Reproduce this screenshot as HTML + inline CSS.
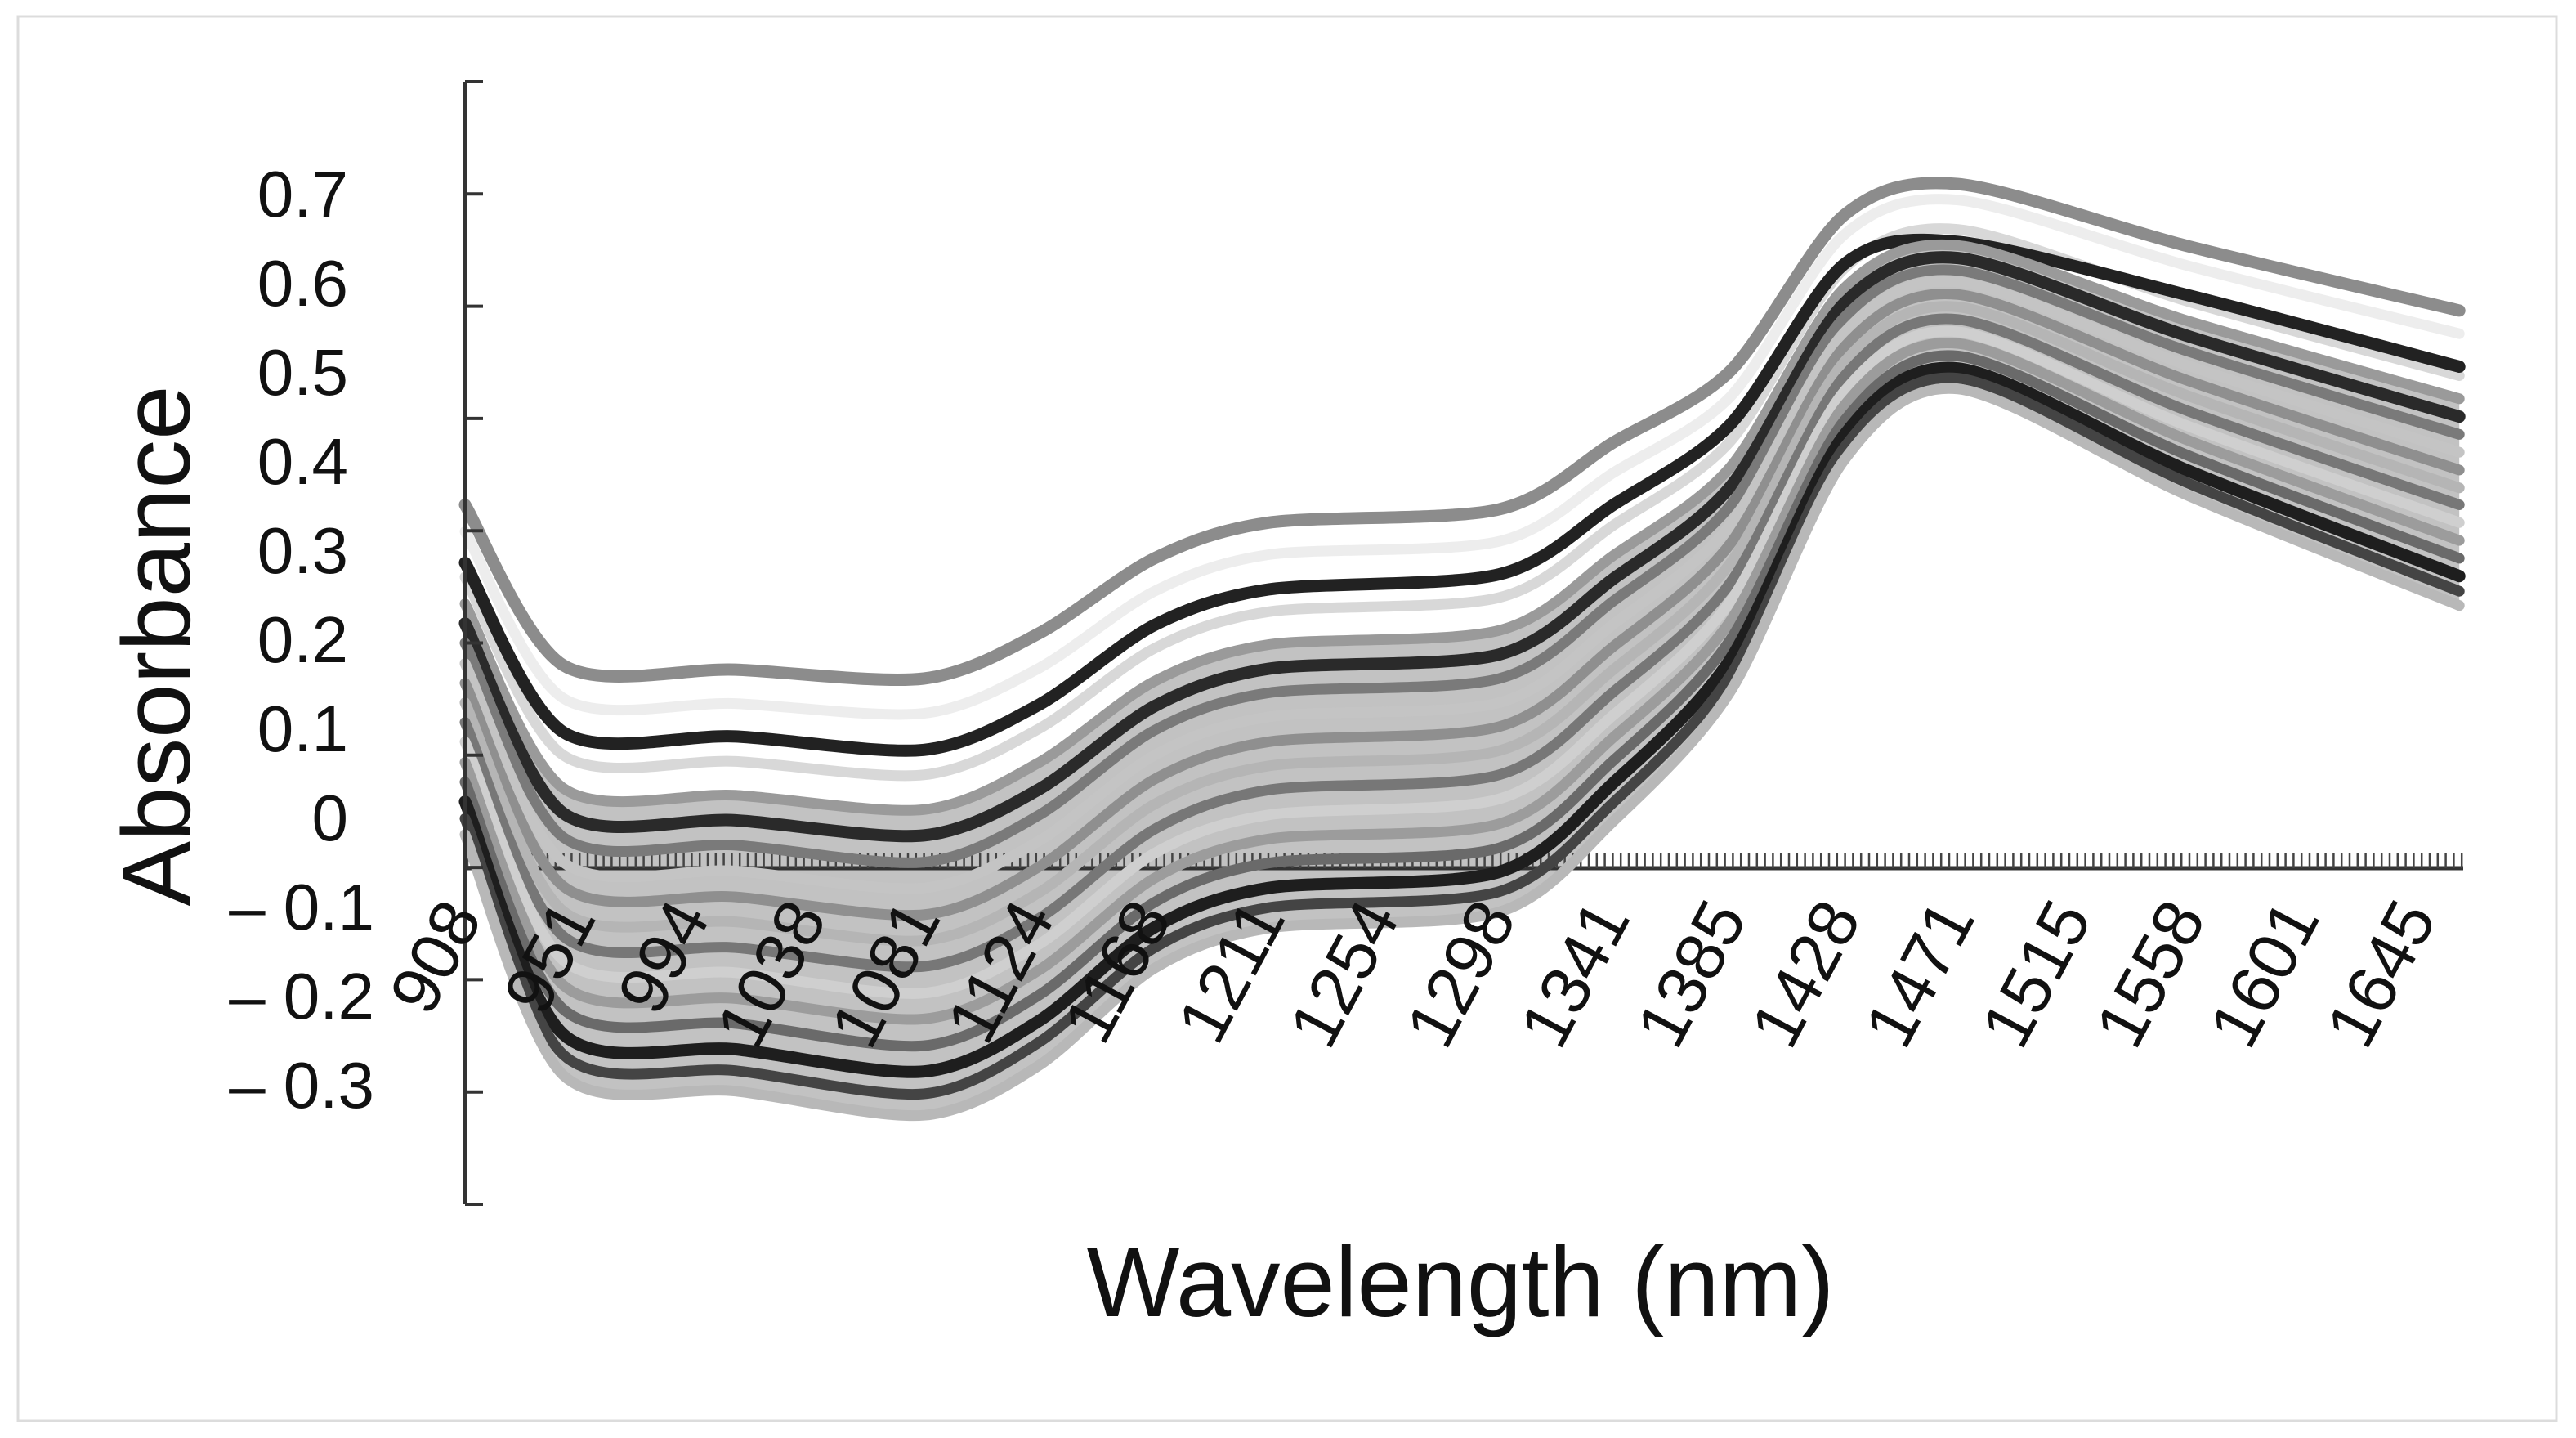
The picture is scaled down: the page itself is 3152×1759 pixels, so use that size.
<!DOCTYPE html>
<html><head><meta charset="utf-8"><style>
html,body{margin:0;padding:0;background:#fff;}
svg{display:block;}
text{font-family:"Liberation Sans",sans-serif;fill:#111;}
</style></head><body>
<svg id="chart" width="3152" height="1759" viewBox="0 0 3152 1759" xmlns="http://www.w3.org/2000/svg">
<rect x="22" y="20" width="3106" height="1718" fill="#fff" stroke="#dcdcdc" stroke-width="3"/>
<g id="band"></g>
<g id="xaxis"></g>
<g id="curves"></g>
<g id="yaxis"></g>
<g id="xlabels"></g>
<text transform="translate(232,790) rotate(-90)" text-anchor="middle" font-size="118" textLength="637" lengthAdjust="spacingAndGlyphs">Absorbance</text>
<text x="1787" y="1610" text-anchor="middle" font-size="122" textLength="915" lengthAdjust="spacingAndGlyphs">Wavelength (nm)</text>
</svg>
<script>
const wavelengths = [908, 945, 1010, 1081, 1124, 1168, 1211, 1298, 1341, 1385, 1428, 1471, 1558, 1660];
const tickLabels = ["908","951","994","1038","1081","1124","1168","1211","1254","1298","1341","1385","1428","1471","1515","1558","1601","1645"];
const tickWavelengths = [908,951,994,1038,1081,1124,1168,1211,1254,1298,1341,1385,1428,1471,1515,1558,1601,1645];
const yTickLabels = ["0.7","0.6","0.5","0.4","0.3","0.2","0.1","0","– 0.1","– 0.2","– 0.3"];
const yTickValues = [0.7,0.6,0.5,0.4,0.3,0.2,0.1,0,-0.1,-0.2,-0.3];
const s01 = [0.35,0.17,0.165,0.155,0.205,0.29,0.33,0.345,0.42,0.50,0.675,0.71,0.64,0.568];
const s02 = [0.320,0.133,0.127,0.116,0.166,0.253,0.294,0.309,0.386,0.471,0.653,0.692,0.618,0.542];
const s03 = [0.285,0.095,0.090,0.075,0.125,0.215,0.255,0.272,0.350,0.440,0.620,0.645,0.585,0.505];
const s04 = [0.269,0.069,0.062,0.047,0.098,0.189,0.230,0.246,0.327,0.421,0.615,0.659,0.578,0.495];
const s05 = [0.239,0.032,0.024,0.008,0.060,0.152,0.193,0.209,0.293,0.392,0.593,0.641,0.556,0.469];
const s06 = [0.217,0.004,-0.004,-0.021,0.030,0.124,0.166,0.182,0.267,0.370,0.576,0.627,0.539,0.449];
const s07 = [0.195,-0.023,-0.032,-0.051,0.001,0.097,0.139,0.155,0.242,0.349,0.560,0.613,0.522,0.429];
const s08 = [0.172,-0.051,-0.061,-0.080,-0.028,0.069,0.112,0.128,0.216,0.327,0.543,0.600,0.506,0.409];
const s09 = [0.150,-0.078,-0.090,-0.110,-0.057,0.042,0.084,0.101,0.191,0.306,0.527,0.586,0.489,0.389];
const s10 = [0.128,-0.106,-0.118,-0.139,-0.086,0.014,0.057,0.074,0.165,0.284,0.510,0.572,0.472,0.369];
const s11 = [0.106,-0.134,-0.147,-0.168,-0.115,-0.014,0.030,0.047,0.140,0.262,0.494,0.558,0.455,0.350];
const s12 = [0.084,-0.161,-0.175,-0.198,-0.144,-0.041,0.002,0.020,0.114,0.241,0.477,0.544,0.438,0.330];
const s13 = [0.061,-0.189,-0.204,-0.227,-0.173,-0.069,-0.025,-0.008,0.089,0.219,0.461,0.531,0.422,0.310];
const s14 = [0.039,-0.216,-0.232,-0.257,-0.201,-0.096,-0.052,-0.035,0.063,0.198,0.444,0.517,0.405,0.290];
const s15 = [0.017,-0.244,-0.261,-0.286,-0.230,-0.124,-0.080,-0.062,0.038,0.176,0.428,0.503,0.388,0.270];
const s16 = [-0.002,-0.267,-0.285,-0.311,-0.254,-0.147,-0.102,-0.084,0.016,0.158,0.414,0.492,0.374,0.253];
const s17 = [-0.02,-0.29,-0.308,-0.335,-0.28,-0.17,-0.125,-0.107,-0.005,0.14,0.40,0.48,0.36,0.237];
const seriesList = [s01,s02,s04,s03,s05,s06,s07,s08,s09,s10,s11,s12,s13,s14,s15,s16,s17];
const seriesColors = ["#8c8c8c","#ededed","#d8d8d8","#222222","#9a9a9a","#2a2a2a","#7a7a7a","#c4c4c4","#8f8f8f","#b5b5b5","#777777","#cfcfcf","#9c9c9c","#6a6a6a","#1e1e1e","#444444","#b8b8b8"];

const NS = "http://www.w3.org/2000/svg";
function xScale(w){ return 569 + (w - 908) * 3.245; }
function yScale(v){ return 999 - v * 1090; }
function pts(vals){ return vals.map((v,i)=>[xScale(wavelengths[i]), yScale(v)]); }
function smooth(p){
  let d = "M" + p[0][0].toFixed(1) + "," + p[0][1].toFixed(1);
  for (let i=0;i<p.length-1;i++){
    const p0=p[Math.max(0,i-1)], p1=p[i], p2=p[i+1], p3=p[Math.min(p.length-1,i+2)];
    const c1=[p1[0]+(p2[0]-p0[0])/7, p1[1]+(p2[1]-p0[1])/7];
    const c2=[p2[0]-(p3[0]-p1[0])/7, p2[1]-(p3[1]-p1[1])/7];
    d += " C"+c1[0].toFixed(1)+","+c1[1].toFixed(1)+" "+c2[0].toFixed(1)+","+c2[1].toFixed(1)+" "+p2[0].toFixed(1)+","+p2[1].toFixed(1);
  }
  return d;
}
function mk(tag, attrs, parent){
  const el = document.createElementNS(NS, tag);
  for (const k in attrs) el.setAttribute(k, attrs[k]);
  parent.appendChild(el);
  return el;
}
const bandG = document.getElementById("band");
const upper = pts(s05), lower = pts(s17).reverse();
let bandD = smooth(upper) + " L" + smooth(lower).slice(1) + " Z";
const band = mk("path", {d: bandD, fill: "#c2c2c2", stroke: "none"}, bandG);



const xg = document.getElementById("xaxis");
const xl = mk("line", {x1: 569, y1: 1062, x2: 3014, y2: 1062, stroke: "#333", "stroke-width": 5}, xg);


for (let x = 572; x <= 3014; x += 9.8){
  const t = mk("line", {x1: x, y1: 1062, x2: x, y2: 1043, stroke: "#444", "stroke-width": 2.5}, xg);
  
  
}

const cg = document.getElementById("curves");
seriesList.forEach((s, i) => {
  const c = seriesColors[i];
  const dark = c === "#222222" || c === "#2a2a2a" || c === "#1e1e1e";
  const p = mk("path", {d: smooth(pts(s)), fill: "none", stroke: c, "stroke-width": (i===0||dark) ? 15 : 13, "stroke-linecap": "round", "stroke-linejoin": "round"}, cg);
  
  
});

const yg = document.getElementById("yaxis");
const yl = mk("line", {x1: 569, y1: 100, x2: 569, y2: 1473, stroke: "#333", "stroke-width": 4}, yg);


for (let k = 0; k <= 10; k++){
  const y = 100 + k * 137.3;
  const t = mk("line", {x1: 569, y1: y, x2: 591, y2: y, stroke: "#333", "stroke-width": 4}, yg);
  
  
}
yTickLabels.forEach((lab, i) => {
  const v = yTickValues[i];
  const t = mk("text", {x: v < 0 ? 458 : 426, y: yScale(v) + 29, "text-anchor": "end", "font-size": 80}, yg);
  t.textContent = lab;
  
  
});

const xlg = document.getElementById("xlabels");
tickLabels.forEach((lab, i) => {
  const x = xScale(tickWavelengths[i]) + 22, y = 1122;
  const t = mk("text", {x: x, y: y, "text-anchor": "end", "font-size": 84, transform: "rotate(-62 " + x + " " + y + ")"}, xlg);
  t.textContent = lab;
  
  
});
</script>
</body></html>
